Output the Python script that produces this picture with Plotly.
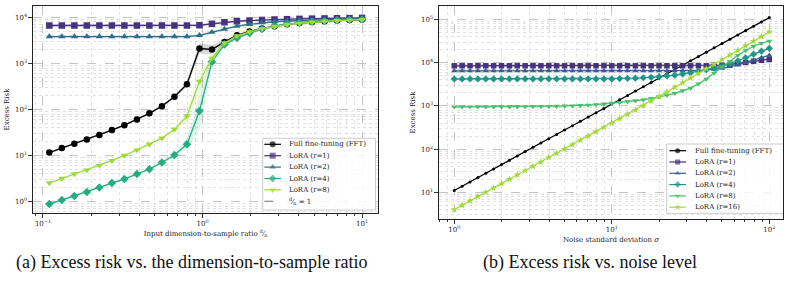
import math
import plotly.graph_objects as go

# ---------------- panel (a): excess risk vs d/n ----------------
ratio = [0.1096, 0.1313, 0.1573, 0.1884, 0.2257, 0.2704, 0.3239, 0.388, 0.4647, 0.5567,
         0.6668, 0.7988, 0.9568, 1.146, 1.373, 1.644, 1.97, 2.36, 2.826, 3.386,
         4.055, 4.858, 5.819, 6.97, 8.349, 10.0]
fft_a = [11.7, 14.6, 18.2, 22.5, 28, 36, 46, 61, 83, 119, 190, 357, 2120, 2020, 2950,
         4100, 5000, 5800, 6500, 7100, 7600, 8000, 8300, 8600, 8800, 9000]
lora1_a = [6700, 6700, 6700, 6700, 6700, 6700, 6700, 6700, 6700, 6700, 6700, 6700,
           6800, 7300, 7900, 8300, 8600, 8850, 9050, 9200, 9350, 9450, 9550, 9650, 9700, 9800]
lora2_a = [3850, 3850, 3850, 3850, 3850, 3850, 3850, 3850, 3850, 3850, 3850, 3850,
           4100, 4800, 5600, 6500, 7100, 7700, 8100, 8400, 8650, 8850, 9000, 9150, 9300, 9400]
lora4_a = [0.89, 1.09, 1.33, 1.62, 2.04, 2.54, 3.1, 4.0, 5.1, 7.1, 10.3, 17.7, 93, 1100,
           2600, 3600, 4600, 5600, 6500, 7200, 7700, 8100, 8450, 8700, 8900, 9100]
lora8_a = [2.55, 3.2, 4.0, 4.86, 6.1, 7.8, 10.1, 13.2, 17.8, 24, 37, 72, 410, 1300,
           2800, 4000, 4900, 5700, 6400, 7000, 7500, 7900, 8300, 8550, 8800, 9000]
# relative spread of the shaded bands
spread_fft_a = [0.05, 0.05, 0.05, 0.05, 0.05, 0.05, 0.05, 0.05, 0.05, 0.05, 0.06, 0.15,
                0.3, 0.25, 0.1, 0.05, 0.04, 0.04, 0.04, 0.04, 0.04, 0.04, 0.04, 0.04, 0.04, 0.04]
spread_r1_a = [0.06, 0.06, 0.06, 0.06, 0.06, 0.06, 0.06, 0.06, 0.06, 0.06, 0.06, 0.06, 0.06,
               0.06, 0.06, 0.05, 0.05, 0.05, 0.05, 0.05, 0.05, 0.05, 0.05, 0.05, 0.05, 0.05]
spread_r2_a = [0.06, 0.06, 0.06, 0.06, 0.06, 0.06, 0.06, 0.06, 0.06, 0.06, 0.06, 0.06, 0.06,
               0.08, 0.08, 0.06, 0.05, 0.05, 0.05, 0.05, 0.05, 0.05, 0.05, 0.05, 0.05, 0.05]
spread_r4_a = [0.06, 0.06, 0.06, 0.06, 0.06, 0.06, 0.06, 0.06, 0.06, 0.06, 0.08, 0.3,
               1.5, 0.4, 0.15, 0.08, 0.05, 0.05, 0.05, 0.05, 0.05, 0.05, 0.05, 0.05, 0.05, 0.05]
spread_r8_a = [0.06, 0.06, 0.06, 0.06, 0.06, 0.06, 0.06, 0.06, 0.06, 0.06, 0.08, 0.3,
               0.6, 0.25, 0.1, 0.06, 0.05, 0.05, 0.05, 0.05, 0.05, 0.05, 0.05, 0.05, 0.05, 0.05]
ratio_ref = 1.0

# ---------------- panel (b): excess risk vs noise level ----------------
sigma = [1.0, 1.122, 1.259, 1.413, 1.585, 1.778, 1.995, 2.239, 2.512, 2.818, 3.162, 3.548,
         3.981, 4.467, 5.012, 5.623, 6.31, 7.079, 7.943, 8.913, 10.0, 11.22, 12.59, 14.13,
         15.85, 17.78, 19.95, 22.39, 25.12, 28.18, 31.62, 35.48, 39.81, 44.67, 50.12, 56.23,
         63.1, 70.79, 79.43, 89.13, 100.0]
fft_b = [11, 13.8, 17.4, 21.9, 27.6, 34.8, 43.8, 55.1, 69.4, 87.4, 110, 138, 174, 219, 276,
         348, 438, 551, 694, 874, 1100, 1385, 1744, 2195, 2764, 3479, 4380, 5514, 6942, 8739,
         11000, 13850, 17440, 21950, 27640, 34790, 43800, 55140, 69420, 87390, 110000]
lora1_b = [8450, 8450, 8450, 8450, 8450, 8450, 8450, 8450, 8450, 8450, 8450, 8450, 8450, 8450,
           8450, 8450, 8450, 8450, 8450, 8450, 8450, 8450, 8450, 8450, 8450, 8450, 8450, 8450,
           8450, 8450, 8450, 8450, 8450, 8550, 8750, 9100, 9500, 10100, 10700, 11350, 12000]
lora2_b = [6450, 6450, 6450, 6450, 6450, 6450, 6450, 6450, 6450, 6450, 6450, 6450, 6450, 6450,
           6450, 6450, 6450, 6450, 6450, 6450, 6450, 6450, 6450, 6450, 6450, 6450, 6450, 6450,
           6450, 6450, 6450, 6600, 6760, 7000, 7400, 8040, 8900, 10000, 11500, 13000, 14800]
lora4_b = [4200, 4200, 4200, 4200, 4200, 4200, 4200, 4200, 4200, 4200, 4200, 4200, 4200, 4200,
           4200, 4200, 4200, 4200, 4200, 4200, 4200, 4270, 4320, 4370, 4470, 4570, 4730, 4900,
           5130, 5430, 5820, 6310, 6840, 7500, 8320, 9550, 10960, 13000, 15700, 18400, 21400]
lora8_b = [950, 950, 952, 952, 955, 955, 957, 958, 960, 962, 965, 970, 975, 985, 995, 1005,
           1020, 1045, 1070, 1110, 1150, 1200, 1260, 1320, 1380, 1480, 1620, 1760, 1950, 2240,
           2570, 3240, 4170, 5750, 7940, 10700, 14800, 19000, 24000, 28000, 31600]
lora16_b = [4.0, 5.04, 6.34, 7.98, 10.0, 12.6, 15.9, 20.0, 25.2, 31.8, 40, 50.4, 63.4, 79.8,
            100, 126, 159, 200, 252, 318, 400, 504, 634, 798, 1005, 1285, 1644, 2104, 2690,
            3440, 4400, 5625, 7196, 9200, 11780, 15060, 19260, 24620, 31490, 40320, 51520]

names_a = ["Full fine-tuning (FFT)", "LoRA (r=1)", "LoRA (r=2)", "LoRA (r=4)", "LoRA (r=8)"]
ref_name = "<sup>d</sup>⁄<sub>n</sub> = 1"
names_b = ["Full fine-tuning (FFT)", "LoRA (r=1)", "LoRA (r=2)", "LoRA (r=4)", "LoRA (r=8)",
           "LoRA (r=16)"]
captions = ["(a) Excess risk vs. the dimension-to-sample ratio", "(b) Excess risk vs. noise level"]

# ---------------- style ----------------
W, H = 792, 284
SERIF = "DejaVu Serif"
CAPFONT = "Liberation Serif, Times New Roman, serif"
cols_a = ["#000000", "#46327e", "#2e6f8e", "#25ac82", "#9fda3a"]
syms_a = ["circle", "square", "triangle-up", "diamond", "triangle-down"]
cols_b = ["#000000", "#46327e", "#3b5e8c", "#20968a", "#48c16e", "#a0da39"]
syms_b = ["circle", "square", "triangle-up", "diamond", "triangle-down", "star"]
band_b = 0.07

PA = dict(x0=33, x1=378, y0=6, y1=213)   # plot area of (a), page px
PB = dict(x0=439, x1=783, y0=6, y1=219)  # plot area of (b), page px


def rgba(hexc, a):
    h = hexc.lstrip("#")
    return "rgba(%d,%d,%d,%.2f)" % (int(h[0:2], 16), int(h[2:4], 16), int(h[4:6], 16), a)


fig = go.Figure()


def add_band(x, y, spread, col, xa, ya):
    lo = [v / (1 + s) for v, s in zip(y, spread)]
    hi = [v * (1 + s) for v, s in zip(y, spread)]
    fig.add_trace(go.Scatter(x=list(x) + list(x)[::-1], y=lo + hi[::-1], fill="toself",
                             fillcolor=rgba(col, 0.15), line=dict(width=0), mode="lines",
                             hoverinfo="skip", showlegend=False, xaxis=xa, yaxis=ya))


# panel (a)
ys_a = [fft_a, lora1_a, lora2_a, lora4_a, lora8_a]
sp_a = [spread_fft_a, spread_r1_a, spread_r2_a, spread_r4_a, spread_r8_a]
for y, s, c in zip(ys_a, sp_a, cols_a):
    add_band(ratio, y, s, c, "x", "y")
for y, c, m, n in zip(ys_a, cols_a, syms_a, names_a):
    fig.add_trace(go.Scatter(x=ratio, y=y, mode="lines+markers", name=n,
                             line=dict(color=c, width=1.3),
                             marker=dict(symbol=m, size=6.5, color=c, line=dict(width=0)),
                             showlegend=False, xaxis="x", yaxis="y"))
fig.add_shape(type="line", xref="x", yref="y domain", x0=ratio_ref, x1=ratio_ref, y0=0, y1=1,
              line=dict(color="#888888", width=1, dash="dash"), layer="below")

# panel (b)
ys_b = [fft_b, lora1_b, lora2_b, lora4_b, lora8_b, lora16_b]
for y, c in zip(ys_b[1:5], cols_b[1:5]):
    add_band(sigma, y, [band_b] * len(sigma), c, "x2", "y2")
for i, (y, c, m, n) in enumerate(zip(ys_b, cols_b, syms_b, names_b)):
    fig.add_trace(go.Scatter(x=sigma, y=y, mode="lines+markers", name=n,
                             line=dict(color=c, width=1.2),
                             marker=dict(symbol=m, size=3 if i == 0 else 5.5, color=c,
                                         line=dict(width=0)),
                             showlegend=False, xaxis="x2", yaxis="y2"))


# ---------------- axes ----------------
def log_ticks(rng):
    lo_exp, hi_exp = math.ceil(rng[0]), math.floor(rng[1])
    vals = [10.0 ** e for e in range(lo_exp, hi_exp + 1)]
    txt = ["10<sup>%s</sup>" % (str(e).replace("-", "\u2212")) for e in range(lo_exp, hi_exp + 1)]
    minor = [m * 10.0 ** e for e in range(lo_exp - 1, hi_exp + 1) for m in range(2, 10)
             if rng[0] < math.log10(m * 10.0 ** e) < rng[1]]
    return vals, txt, minor


def log_axis(dom, rng, anchor, title, minor_ticks, standoff):
    vals, txt, minor = log_ticks(rng)
    return dict(type="log", domain=dom, range=rng, anchor=anchor,
                tickmode="array", tickvals=vals, ticktext=txt,
                showgrid=True, gridcolor="#c4c4c4", gridwidth=0.8, griddash="dash",
                minor=dict(tickmode="array", tickvals=minor, showgrid=True,
                           gridcolor="#e2e2e2", gridwidth=0.6, griddash="dot",
                           ticks="outside" if minor_ticks else "", ticklen=2,
                           tickcolor="#333333"),
                ticks="outside", ticklen=3.5, tickcolor="#333333", tickwidth=0.8,
                showline=True, mirror=True, linecolor="#222222", linewidth=1.1,
                tickfont=dict(family=SERIF, size=7, color="#222222"),
                title=dict(text=title, font=dict(family=SERIF, size=7, color="#222222"),
                           standoff=standoff),
                zeroline=False, fixedrange=True)


fig.update_layout(
    xaxis=log_axis([PA["x0"] / W, PA["x1"] / W], [-1.0625, 1.1], "y",
                   "Input dimension-to-sample ratio <sup>d</sup>⁄<sub>n</sub>", True, 1),
    yaxis=log_axis([1 - PA["y1"] / H, 1 - PA["y0"] / H], [-0.245, 4.25], "x",
                   "Excess Risk", False, 4),
    xaxis2=log_axis([PB["x0"] / W, PB["x1"] / W], [-0.097, 2.087], "y2",
                    "Noise standard deviation <i>σ</i>", True, 4),
    yaxis2=log_axis([1 - PB["y1"] / H, 1 - PB["y0"] / H], [0.383, 5.31], "x2",
                    "Excess Risk", False, 4),
)

# overlay axes in page-pixel units for the hand-drawn legends
for k, P, bx, by in [(3, PA, "x", "y"), (4, PB, "x2", "y2")]:
    fig.layout["xaxis%d" % k] = dict(domain=[P["x0"] / W, P["x1"] / W], range=[P["x0"], P["x1"]],
                                     overlaying=bx, anchor="y%d" % k, visible=False,
                                     fixedrange=True)
    fig.layout["yaxis%d" % k] = dict(domain=[1 - P["y1"] / H, 1 - P["y0"] / H],
                                     range=[P["y1"], P["y0"]], overlaying=by,
                                     anchor="x%d" % k, visible=False, fixedrange=True)


def draw_legend(k, box, row0, row_h, hx0, hx1, tx, entries, msize):
    xa, ya = "x%d" % k, "y%d" % k
    x0, y0, x1, y1 = box
    fig.add_trace(go.Scatter(x=[x0, x1, x1, x0, x0], y=[y0, y0, y1, y1, y0], mode="lines",
                             fill="toself", fillcolor="rgba(255,255,255,0.85)",
                             line=dict(color="#cccccc", width=1), hoverinfo="skip",
                             showlegend=False, xaxis=xa, yaxis=ya))
    for j, (name, col, sym, dash) in enumerate(entries):
        cy = row0 + j * row_h
        fig.add_trace(go.Scatter(x=[hx0, (hx0 + hx1) / 2, hx1], y=[cy, cy, cy],
                                 mode="lines+markers" if sym else "lines",
                                 line=dict(color=col, width=1.2, dash=dash),
                                 marker=dict(symbol=sym or "circle", size=[0, msize, 0],
                                             color=col, line=dict(width=0)),
                                 hoverinfo="skip", showlegend=False, xaxis=xa, yaxis=ya))
        fig.add_annotation(x=tx, y=cy, xref=xa, yref=ya, text=name, showarrow=False,
                           xanchor="left", yanchor="middle",
                           font=dict(family=SERIF, size=7, color="#222222"))


entries_a = [(n, c, s, "solid") for n, c, s in zip(names_a, cols_a, syms_a)]
entries_a.append((ref_name, "#888888", None, "dash"))
draw_legend(3, (262.7, 138.3, 375.5, 210.0), 144.3, 11.4, 264.3, 281.0, 287.3, entries_a, 6)

entries_b = [(n, c, s, "solid") for n, c, s in zip(names_b, cols_b, syms_b)]
draw_legend(4, (666.7, 144.0, 784.0, 213.3), 150.7, 11.3, 669.3, 686.0, 692.7, entries_b, 5)

# captions
for cx, txt in zip([191, 590], captions):
    fig.add_annotation(x=cx / W, y=1 - 262 / H, xref="paper", yref="paper", text=txt,
                       showarrow=False, xanchor="center", yanchor="middle",
                       font=dict(family=CAPFONT, size=18, color="#111111"))

fig.update_layout(width=W, height=H, margin=dict(l=0, r=0, t=0, b=0),
                  paper_bgcolor="white", plot_bgcolor="white", showlegend=False)

fig.write_html("out.html")
